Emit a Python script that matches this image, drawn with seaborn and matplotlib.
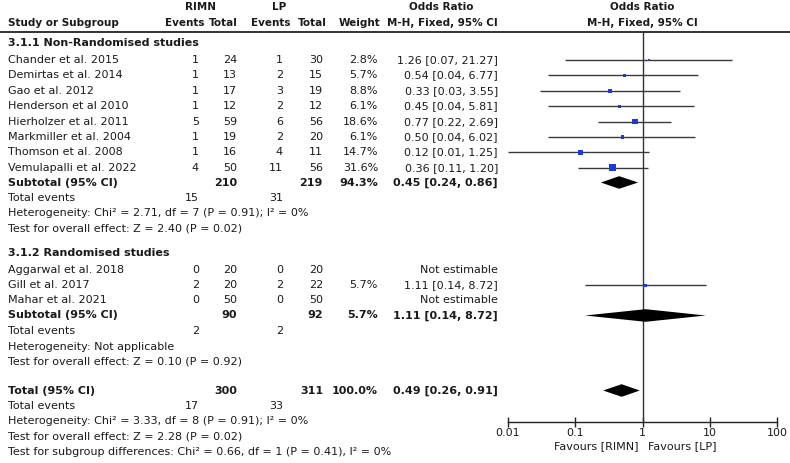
import matplotlib
matplotlib.use("Agg")
import matplotlib.pyplot as plt
import seaborn as sns
import pandas as pd
import numpy as np

sns.set_theme(style="white")
plt.rcParams['font.family'] = ['DejaVu Sans']

# ---- data ----
studies_nr = ["Chander et al. 2015", "Demirtas et al. 2014", "Gao et al. 2012",
              "Henderson et al 2010", "Hierholzer et al. 2011", "Markmiller et al. 2004",
              "Thomson et al. 2008", "Vemulapalli et al. 2022"]
rimn_ev_nr = [1, 1, 1, 1, 5, 1, 1, 4]
rimn_tot_nr = [24, 13, 17, 12, 59, 19, 16, 50]
lp_ev_nr = [1, 2, 3, 2, 6, 2, 4, 11]
lp_tot_nr = [30, 15, 19, 12, 56, 20, 11, 56]
weight_nr = [2.8, 5.7, 8.8, 6.1, 18.6, 6.1, 14.7, 31.6]
or_nr = [1.26, 0.54, 0.33, 0.45, 0.77, 0.50, 0.12, 0.36]
lo_nr = [0.07, 0.04, 0.03, 0.04, 0.22, 0.04, 0.01, 0.11]
hi_nr = [21.27, 6.77, 3.55, 5.81, 2.69, 6.02, 1.25, 1.20]

studies_r = ["Aggarwal et al. 2018", "Gill et al. 2017", "Mahar et al. 2021"]
rimn_ev_r = [0, 2, 0]
rimn_tot_r = [20, 20, 50]
lp_ev_r = [0, 2, 0]
lp_tot_r = [20, 22, 50]
weight_r = [None, 5.7, None]
or_r = [None, 1.11, None]
lo_r = [None, 0.14, None]
hi_r = [None, 8.72, None]

# pooled: [estimate, low, high], totals, weight
sub_nr = [0.45, 0.24, 0.86]
sub_r = [1.11, 0.14, 8.72]
overall = [0.49, 0.26, 0.91]
sub_nr_tot = [210, 219, 94.3]
sub_r_tot = [90, 92, 5.7]
overall_tot = [300, 311, 100.0]
events_nr = [15, 31]
events_r = [2, 2]
events_all = [17, 33]

ticks = [0.01, 0.1, 1, 10, 100]
tick_labels = ["0.01", "0.1", "1", "10", "100"]

# ---- layout (pixel units) ----
W, H = 790, 463
TXT = "#1a1a1a"
BLUE = "#1c3ad6"
FS = 8.0
FS_HEAD = 7.5
y_nr = [60 + 15.4 * k for k in range(len(studies_nr))]
y_r = [270 + 15.2 * k for k in range(len(studies_r))]
# right edges of columns
c_ev1, c_tot1, c_ev2, c_tot2, c_w, c_or = 199, 237, 283, 323, 378, 498

fig = plt.figure(figsize=(7.9, 4.63), dpi=100)
ax_t = fig.add_axes([0, 0, 1, 1])
ax_t.set_xlim(0, W)
ax_t.set_ylim(H, 0)
ax_t.axis("off")

ax_f = fig.add_axes([508 / W, (H - 422) / H, (777 - 508) / W, (422 - 32) / H])
ax_f.set_xscale("log")
ax_f.set_xlim(0.01, 100)
ax_f.set_ylim(422, 32)
ax_f.patch.set_alpha(0)


def txt(x, y, s, ha="left", bold=False, size=FS):
    ax_t.text(x, y, s, ha=ha, va="center", fontsize=size, color=TXT,
              fontweight="bold" if bold else "normal")


def head(x, y, s, ha="left"):
    txt(x, y, s, ha=ha, bold=True, size=FS_HEAD)


def fmt_ci(v):
    return f"{v[0]:.2f} [{v[1]:.2f}, {v[2]:.2f}]"


# headers
head(201, 7.5, "RIMN", ha="center")
head(279, 7.5, "LP", ha="center")
head(441, 7.5, "Odds Ratio", ha="center")
head(642, 7.5, "Odds Ratio", ha="center")
head(8, 23, "Study or Subgroup")
for x, s in [(204, "Events"), (238, "Total"), (290, "Events"), (327, "Total"), (380, "Weight")]:
    head(x, 23, s, ha="right")
head(c_or, 23, "M-H, Fixed, 95% CI", ha="right")
head(642, 23, "M-H, Fixed, 95% CI", ha="center")
ax_t.plot([0, W], [32, 32], color="#222222", lw=1.3)

# subgroup 1
txt(8, 43, "3.1.1 Non-Randomised studies", bold=True)
for i, name in enumerate(studies_nr):
    y = y_nr[i]
    txt(8, y, name)
    txt(c_ev1, y, str(rimn_ev_nr[i]), ha="right")
    txt(c_tot1, y, str(rimn_tot_nr[i]), ha="right")
    txt(c_ev2, y, str(lp_ev_nr[i]), ha="right")
    txt(c_tot2, y, str(lp_tot_nr[i]), ha="right")
    txt(c_w, y, f"{weight_nr[i]:.1f}%", ha="right")
    txt(c_or, y, fmt_ci([or_nr[i], lo_nr[i], hi_nr[i]]), ha="right")

y = 182.5
txt(8, y, "Subtotal (95% CI)", bold=True)
txt(c_tot1, y, str(sub_nr_tot[0]), ha="right", bold=True)
txt(c_tot2, y, str(sub_nr_tot[1]), ha="right", bold=True)
txt(c_w, y, f"{sub_nr_tot[2]:.1f}%", ha="right", bold=True)
txt(c_or, y, fmt_ci(sub_nr), ha="right", bold=True)
txt(8, 198, "Total events")
txt(c_ev1, 198, str(events_nr[0]), ha="right")
txt(c_ev2, 198, str(events_nr[1]), ha="right")
txt(8, 213, "Heterogeneity: Chi² = 2.71, df = 7 (P = 0.91); I² = 0%")
txt(8, 228.5, "Test for overall effect: Z = 2.40 (P = 0.02)")

# subgroup 2
txt(8, 253.5, "3.1.2 Randomised studies", bold=True)
for i, name in enumerate(studies_r):
    y = y_r[i]
    txt(8, y, name)
    txt(c_ev1, y, str(rimn_ev_r[i]), ha="right")
    txt(c_tot1, y, str(rimn_tot_r[i]), ha="right")
    txt(c_ev2, y, str(lp_ev_r[i]), ha="right")
    txt(c_tot2, y, str(lp_tot_r[i]), ha="right")
    if or_r[i] is None:
        txt(c_or, y, "Not estimable", ha="right")
    else:
        txt(c_w, y, f"{weight_r[i]:.1f}%", ha="right")
        txt(c_or, y, fmt_ci([or_r[i], lo_r[i], hi_r[i]]), ha="right")

y = 315.5
txt(8, y, "Subtotal (95% CI)", bold=True)
txt(c_tot1, y, str(sub_r_tot[0]), ha="right", bold=True)
txt(c_tot2, y, str(sub_r_tot[1]), ha="right", bold=True)
txt(c_w, y, f"{sub_r_tot[2]:.1f}%", ha="right", bold=True)
txt(c_or, y, fmt_ci(sub_r), ha="right", bold=True)
txt(8, 331, "Total events")
txt(c_ev1, 331, str(events_r[0]), ha="right")
txt(c_ev2, 331, str(events_r[1]), ha="right")
txt(8, 346.5, "Heterogeneity: Not applicable")
txt(8, 362, "Test for overall effect: Z = 0.10 (P = 0.92)")

# overall
y = 390.5
txt(8, y, "Total (95% CI)", bold=True)
txt(c_tot1, y, str(overall_tot[0]), ha="right", bold=True)
txt(c_tot2, y, str(overall_tot[1]), ha="right", bold=True)
txt(c_w, y, f"{overall_tot[2]:.1f}%", ha="right", bold=True)
txt(c_or, y, fmt_ci(overall), ha="right", bold=True)
txt(8, 406, "Total events")
txt(c_ev1, 406, str(events_all[0]), ha="right")
txt(c_ev2, 406, str(events_all[1]), ha="right")
txt(8, 421, "Heterogeneity: Chi² = 3.33, df = 8 (P = 0.91); I² = 0%")
txt(8, 436.5, "Test for overall effect: Z = 2.28 (P = 0.02)")
txt(8, 452, "Test for subgroup differences: Chi² = 0.66, df = 1 (P = 0.41), I² = 0%")

# ---- forest panel ----
ax_f.axvline(1, color="#333333", lw=1, zorder=1)

est = pd.DataFrame({
    "or": or_nr + [v for v in or_r if v is not None],
    "lo": lo_nr + [v for v in lo_r if v is not None],
    "hi": hi_nr + [v for v in hi_r if v is not None],
    "weight": weight_nr + [v for v in weight_r if v is not None],
    "y": y_nr + [y_r[i] for i, v in enumerate(or_r) if v is not None],
})
ax_f.hlines(est["y"], est["lo"], est["hi"], color="#3a3a3a", lw=1, zorder=2)
sns.scatterplot(data=est, x="or", y="y", size="weight", sizes=(0, 28),
                size_norm=(0, max(weight_nr)), marker="s", color=BLUE,
                linewidth=0, legend=False, ax=ax_f, zorder=3)

for pooled, y in [(sub_nr, 182.5), (sub_r, 315.5), (overall, 390.5)]:
    e, lo, hi = pooled
    ax_f.fill([lo, e, hi, e], [y, y - 6.3, y, y + 6.3], color="black", lw=0, zorder=3)

ax_f.set_xlim(0.01, 100)
ax_f.set_ylim(422, 32)
for side in ["top", "right", "left"]:
    ax_f.spines[side].set_visible(False)
ax_f.spines["bottom"].set_color("#222222")
ax_f.spines["bottom"].set_linewidth(1)
ax_f.set_xticks(ticks)
ax_f.set_xticklabels(tick_labels)
ax_f.minorticks_off()
ax_f.set_yticks([])
ax_f.tick_params(axis="x", direction="inout", length=7, width=1, color="#222222",
                 labelsize=FS, labelcolor=TXT, pad=1, bottom=True)
ax_f.set_xlabel("")
ax_f.set_ylabel("")
ax_f.grid(False)

txt(639, 446, "Favours [RIMN]", ha="right")
txt(648, 446, "Favours [LP]", ha="left")

fig.savefig("out.png", dpi=100)
